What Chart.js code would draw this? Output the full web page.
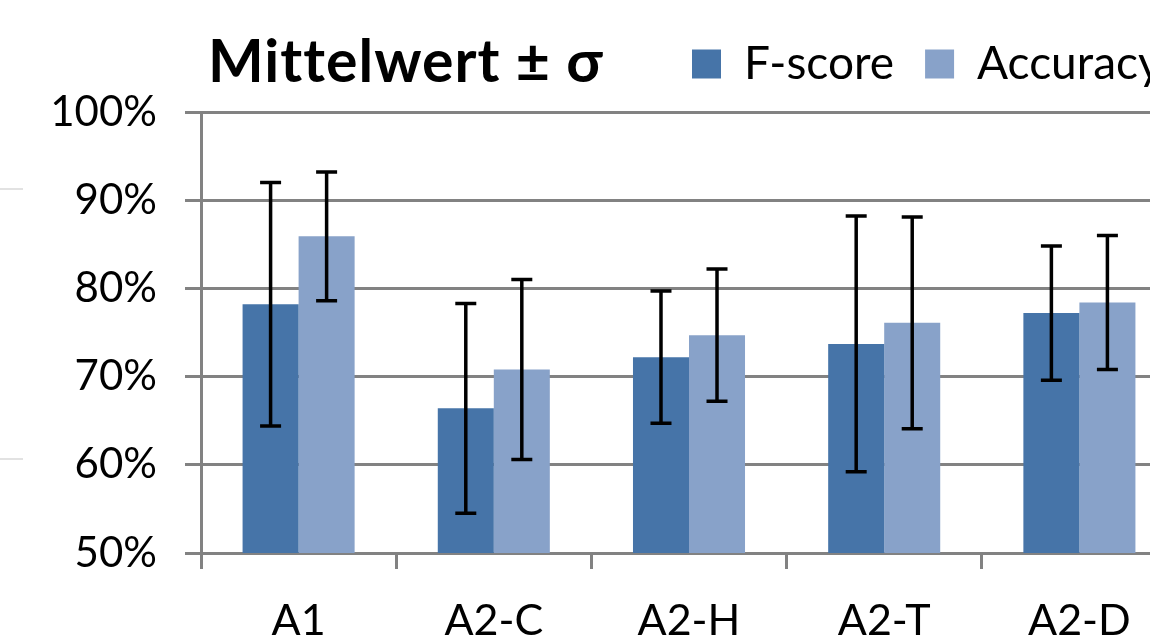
<!DOCTYPE html>
<html>
<head>
<meta charset="utf-8">
<script src="https://cdn.jsdelivr.net/npm/chart.js@4.4.1/dist/chart.umd.min.js"></script>
<style>
  html, body { margin: 0; padding: 0; background: #fff; overflow: hidden; }
  #wrap { position: relative; width: 1200px; height: 639px; }
  #title { position: absolute; left: 208px; top: 24px; font: bold 59px Lato, sans-serif; letter-spacing: 1px; color: #000; white-space: nowrap; }
  .stub { position: absolute; left: 0; width: 23px; height: 2px; background: #e2e2e2; }
</style>
</head>
<body>
<div id="wrap">
  <canvas id="chart" width="1200" height="639"></canvas>
  <div id="title">Mittelwert ± σ</div>
  <div class="stub" style="top:188px"></div>
  <div class="stub" style="top:458px"></div>
</div>
<script>
const categories = ['A1', 'A2-C', 'A2-H', 'A2-T', 'A2-D'];
const fScore = [78.2, 66.4, 72.2, 73.7, 77.2];
const fScoreSd = [13.8, 11.9, 7.5, 14.5, 7.6];
const accuracy = [85.9, 70.8, 74.7, 76.1, 78.4];
const accuracySd = [7.3, 10.2, 7.5, 12.0, 7.6];
const yTicks = [50, 60, 70, 80, 90, 100];

const gridGray = '#828282';

// mean +/- sigma whiskers, placed with the bar elements and the y scale
const errorBars = {
  id: 'errorBars',
  afterDatasetsDraw(chart) {
    const ctx = chart.ctx;
    const y = chart.scales.y;
    ctx.save();
    ctx.strokeStyle = '#000';
    ctx.lineWidth = 3.5;
    chart.data.datasets.forEach((ds, i) => {
      chart.getDatasetMeta(i).data.forEach((bar, j) => {
        const top = y.getPixelForValue(ds.data[j] + ds.sd[j]);
        const bot = y.getPixelForValue(ds.data[j] - ds.sd[j]);
        ctx.beginPath();
        ctx.moveTo(bar.x, top); ctx.lineTo(bar.x, bot);
        ctx.moveTo(bar.x - 10.5, top); ctx.lineTo(bar.x + 10.5, top);
        ctx.moveTo(bar.x - 10.5, bot); ctx.lineTo(bar.x + 10.5, bot);
        ctx.stroke();
      });
    });
    ctx.restore();
  }
};

// legend sits on the title line, right of the title
const legendPlacer = {
  id: 'legendPlacer',
  beforeDraw(chart) {
    const lg = chart.legend;
    const w = lg.right - lg.left;
    const h = lg.bottom - lg.top;
    lg.left = 661; lg.right = lg.left + w;
    lg.top = 10; lg.bottom = lg.top + h;
  }
};

new Chart(document.getElementById('chart'), {
  type: 'bar',
  data: {
    labels: categories,
    datasets: [
      { label: 'F-score', data: fScore, sd: fScoreSd, backgroundColor: '#4674a8' },
      { label: 'Accuracy', data: accuracy, sd: accuracySd, backgroundColor: '#88a2c9' }
    ]
  },
  options: {
    responsive: false,
    animation: false,
    devicePixelRatio: 1,
    layout: { padding: { top: 25, right: 23, left: 0, bottom: 0 } },
    datasets: { bar: { categoryPercentage: 0.574, barPercentage: 1 } },
    plugins: {
      legend: {
        position: 'top',
        align: 'start',
        fullSize: false,
        labels: {
          boxWidth: 29, boxHeight: 29, padding: 31, color: '#000',
          font: { family: 'Lato', size: 46 }
        }
      },
      tooltip: { enabled: false }
    },
    scales: {
      x: {
        grid: { drawOnChartArea: false, offset: true, tickLength: 16, color: gridGray, lineWidth: 3 },
        border: { color: gridGray, width: 3 },
        ticks: { color: '#000', font: { family: 'Lato', size: 43 }, padding: 26, maxRotation: 0 },
        afterFit(scale) { scale.height = 86; }
      },
      y: {
        min: 50,
        max: 100,
        afterBuildTicks(scale) { scale.ticks = yTicks.map(v => ({ value: v })); },
        ticks: { callback: v => v + '%', color: '#000', font: { family: 'Lato', size: 42 }, padding: 28 },
        grid: { color: gridGray, lineWidth: 3, tickLength: 16 },
        border: { color: gridGray, width: 3 },
        afterFit(scale) { scale.width = 201; }
      }
    }
  },
  plugins: [errorBars, legendPlacer]
});
</script>
</body>
</html>
